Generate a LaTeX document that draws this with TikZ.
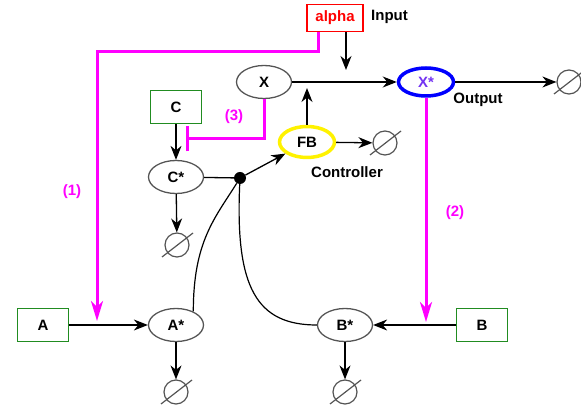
\documentclass[tikz,border=0pt]{standalone}
\usepackage{fontspec}
\setmainfont{Liberation Sans}
\usetikzlibrary{arrows.meta,shapes.geometric}
\definecolor{boxgreen}{rgb}{0.13,0.55,0.13}
\definecolor{nodegray}{rgb}{0.33,0.33,0.33}
\definecolor{starblue}{rgb}{0.45,0.2,0.95}
\definecolor{ctrlmag}{RGB}{255,0,255}
\tikzset{
  netarr/.style={-{Stealth[length=14pt,width=11pt,inset=4.5pt]}, line width=1.3pt},
  ctrlarr/.style={-{Stealth[length=20pt,width=12pt,inset=6pt]}, line width=3pt, draw=ctrlmag},
  netnode/.style={font=\fontsize{15}{17}\selectfont\bfseries, inner sep=0pt},
}

\begin{document}
\begin{tikzpicture}[
  x=1pt, y=-1pt,
  species/.style={netnode, ellipse, draw=nodegray, line width=1.3pt, minimum width=55pt, minimum height=33pt},
  source/.style={netnode, rectangle, draw=boxgreen, line width=1.3pt, minimum width=51pt, minimum height=33pt},
  sink/.style={circle, draw=nodegray, line width=1.2pt, minimum size=24pt, inner sep=0pt},
  tag/.style={netnode, text=ctrlmag},
]
  \useasboundingbox (0,0) rectangle (581,411);
  % top row
  \node[source, draw=red, text=red, minimum width=56pt, minimum height=27pt] (alpha) at (335,18) {alpha};
  \node[netnode, anchor=west] (in) at (371,17) {Input};
  \node[species] (X) at (264,82) {X};
  \node[species, draw=blue, line width=3.5pt, minimum height=28pt, text=starblue] (Xs) at (426,82) {X*};
  \node[netnode] (out) at (478,100) {Output};
  \node[species, draw=yellow, line width=3.5pt, minimum height=31pt] (FB) at (307,142) {FB};
  \node[netnode] (ctrl) at (347,172) {Controller};
  % left column
  \node[source] (C) at (176,107) {C};
  \node[species] (Cs) at (176,177) {C*};
  \node[circle, fill=black, inner sep=0pt, minimum size=12pt] (hub) at (240,178) {};
  % bottom row
  \node[source] (A) at (43,325) {A};
  \node[species] (As) at (176,325) {A*};
  \node[species] (Bs) at (345,325) {B*};
  \node[source] (B) at (482,325) {B};
  % sinks
  \node[sink] (sX) at (569,82) {};
  \node[sink] (sFB) at (385,143) {};
  \node[sink] (sC) at (177,245) {};
  \node[sink] (sA) at (176,392) {};
  \node[sink] (sB) at (345,392) {};
  \foreach \s in {sX,sFB,sC,sA,sB}
    \draw[nodegray, line width=1.2pt] (\s.center) ++(-15,12) -- ++(31,-24);
  % labels
  \node[tag] (l1) at (72,192) {(1)};
  \node[tag] (l2) at (455,213) {(2)};
  \node[tag] (l3) at (234,117) {(3)};
  % free ends
  \coordinate (inTip) at (346,70);
  \coordinate (fbTip) at (307,88);
  \coordinate (loop1) at (97,52);
  \coordinate (aTip) at (97,321);
  \coordinate (bTip) at (426,322);
  \coordinate (cTip) at (186,139);
  % reactions
  \foreach \a/\b in {X/Xs,Xs/sX,FB/sFB,C/Cs,Cs/sC,A/As,B/Bs,As/sA,Bs/sB}
    \draw[netarr] (\a) -- (\b);
  \draw[netarr] ([xshift=11pt]alpha.south) -- (inTip);
  \draw[netarr] (FB.north) -- (fbTip);
  \draw[line width=1.3pt] (Cs) -- (hub);
  \draw[netarr] (hub) -- (FB);
  \draw[line width=1.2pt] (As.38) .. controls +(0,-70) and +(-25,40) .. (hub);
  \draw[line width=1.2pt] (hub) .. controls +(-5,110) and +(-60,0) .. (Bs.west);
  % control
  \draw[ctrlarr] ([xshift=-17pt]alpha.south) |- (loop1) -- (aTip);
  \draw[ctrlarr] (Xs.south) -- (bTip);
  \draw[line width=3pt, ctrlmag, -{Bar[width=25pt]}] (X.south) |- (cTip);
\end{tikzpicture}
\end{document}
